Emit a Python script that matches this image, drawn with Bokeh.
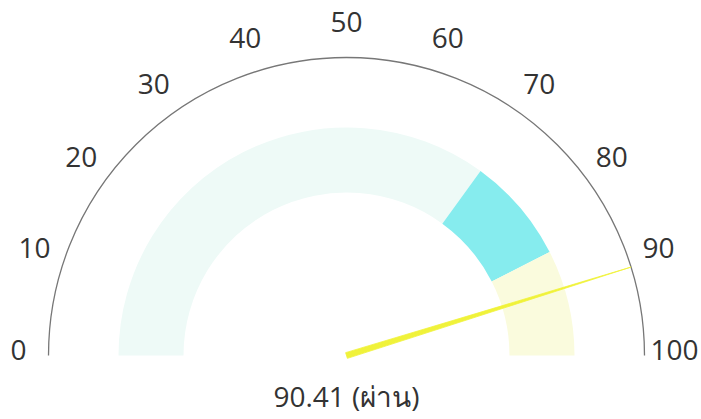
import numpy as np
from bokeh.plotting import figure
from bokeh.models import Range1d
from bokeh.core.properties import value as pval
from bokeh.embed import file_html
from bokeh.resources import INLINE

# ---- data ----
tick_values = [0, 10, 20, 30, 40, 50, 60, 70, 80, 90, 100]
tick_labels = ["0", "10", "20", "30", "40", "50", "60", "70", "80", "90", "100"]
band_starts = [0, 70, 85]
band_ends = [70, 85, 100]
band_colors = ["#eefaf7", "#86ecee", "#fafbdd"]
gauge_value = 90.41
status_text = "ผ่าน"
vmin, vmax = 0, 100

def ang(v):
    return np.pi * (1 - (np.asarray(v, dtype=float) - vmin) / (vmax - vmin))

W, H = 701, 419
R_PX = 298.0
CX, CY = 346.0, 355.0
p = figure(width=W, height=H, output_backend="svg", toolbar_location=None,
           x_range=Range1d((0 - CX) / R_PX, (W - CX) / R_PX),
           y_range=Range1d((CY - H) / R_PX, (CY - 0) / R_PX),
           min_border=0)
p.axis.visible = False
p.grid.visible = False
p.outline_line_color = None
p.background_fill_color = "white"
p.border_fill_color = "white"

# bands
p.annular_wedge(x=0, y=0, inner_radius=163 / R_PX, outer_radius=228 / R_PX,
                start_angle=ang(band_ends), end_angle=ang(band_starts),
                fill_color=band_colors, line_color=None)

# outer arc
p.arc(x=0, y=0, radius=1.0, start_angle=0, end_angle=np.pi,
      line_color="#777777", line_width=1.3)

# tick labels
ta = ang(tick_values)
lr = 328 / R_PX
p.text(x=lr * np.cos(ta), y=lr * np.sin(ta) + 6 / R_PX, text=tick_labels,
       text_align="center", text_baseline="middle",
       text_font=pval("Open Sans"), text_font_size="28px", text_color="#333333")

# needle (tapered)
na = float(ang(gauge_value))
half_w = 3.0 / R_PX
nx = [-half_w * np.sin(na), 1.0 * np.cos(na), half_w * np.sin(na)]
ny = [half_w * np.cos(na), 1.0 * np.sin(na), -half_w * np.cos(na)]
p.patch(nx, ny, fill_color="#f0f23a", line_color="#f0f23a", line_width=0.8)

# value label
p.text(x=[0], y=[-40 / R_PX], text=[f"{gauge_value:.2f} ({status_text})"],
       text_align="center", text_baseline="middle",
       text_font=pval("Open Sans"), text_font_size="28px", text_color="#333333")

open("out.html", "w").write(file_html(p, INLINE))
